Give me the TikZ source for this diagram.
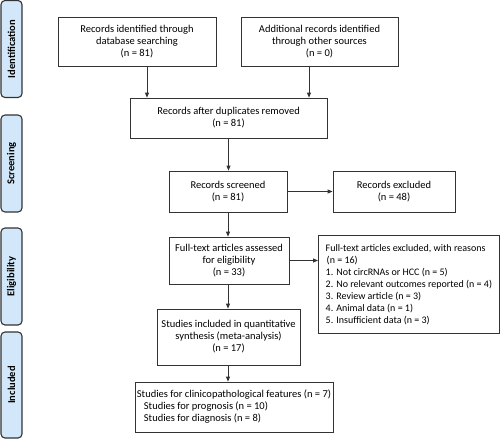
\documentclass[tikz,border=0pt]{standalone}
\usepackage{fontspec}
\setmainfont{Carlito}
\usetikzlibrary{arrows.meta}
\definecolor{sidefill}{HTML}{D2E8FA}
\definecolor{linegray}{HTML}{333333}
\begin{document}
\begin{tikzpicture}[x=1pt,y=-1pt,
  box/.style={draw=linegray,line width=0.8pt,align=center,inner sep=0pt,font=\fontsize{10.5}{12}\selectfont},
  side/.style={draw=linegray,fill=sidefill,line width=1.1pt,rounded corners=4pt,inner sep=0pt,
    minimum width=21pt},
  sidetext/.style={rotate=90,font=\fontsize{10.5}{12}\selectfont\bfseries},
  arr/.style={draw=linegray,line width=0.8pt,-{Triangle[length=5pt,width=4pt]}}]
\useasboundingbox (0,0) rectangle (500,440);
% side labels
\node[side,minimum height=97pt] (s1) at (11.5,49) {};
\node[sidetext] (t1) at (s1.center) {Identification};
\node[side,minimum height=97pt] (s2) at (11.5,163.5) {};
\node[sidetext] (t2) at (s2.center) {Screening};
\node[side,minimum height=97pt] (s3) at (11.5,276.5) {};
\node[sidetext] (t3) at (s3.center) {Eligibility};
\node[side,minimum height=106pt] (s4) at (11.5,385) {};
\node[sidetext] (t4) at (s4.center) {Included};
% boxes
\node[box,minimum width=158pt,minimum height=49pt] (b1) at (137,41.5)
  {Records identified through\\database searching\\(n = 81)};
\node[box,minimum width=157pt,minimum height=49pt] (b2) at (319.5,41.5)
  {Additional records identified\\through other sources\\(n = 0)};
\node[box,minimum width=197pt,minimum height=40pt] (b3) at (228.5,118)
  {Records after duplicates removed\\(n = 81)};
\node[box,minimum width=118pt,minimum height=41pt] (b4) at (228,191.5)
  {Records screened\\(n = 81)};
\node[box,minimum width=122pt,minimum height=41pt] (b5) at (394,191.5)
  {Records excluded\\(n = 48)};
\node[box,minimum width=120pt,minimum height=47pt] (b6) at (229,260.5)
  {Full-text articles assessed\\for eligibility\\(n = 33)};
\node[box,align=left,anchor=north west,inner xsep=6pt,minimum width=181pt,minimum height=98pt,
  font=\fontsize{10}{12}\selectfont] (b7) at (318,235)
  {Full-text articles excluded, with reasons\\\hspace*{1pt}(n = 16)\\1. Not circRNAs or HCC (n = 5)\\2. No relevant outcomes reported (n = 4)\\3. Review article (n = 3)\\4. Animal data (n = 1)\\5. Insufficient data (n = 3)};
\node[box,minimum width=143pt,minimum height=56pt] (b8) at (228.5,337)
  {Studies included in quantitative\\synthesis (meta-analysis)\\(n = 17)};
\node[box,align=left,minimum width=198pt,minimum height=50pt] (b9) at (234,407)
  {Studies for clinicopathological features (n = 7)\\\hspace*{7pt}Studies for prognosis (n = 10)\\\hspace*{7pt}Studies for diagnosis (n = 8)};
% arrows
\draw[arr] ([xshift=10pt]b1.south) -- ([xshift=10pt]b1.south |- b3.north);
\draw[arr] ([xshift=-10.5pt]b2.south) -- ([xshift=-10.5pt]b2.south |- b3.north);
\draw[arr] (b3.south) -- (b3.south |- b4.north);
\draw[arr] (b4.east) -- (b5.west);
\draw[arr] (b4.south) -- (b4.south |- b6.north);
\draw[arr] (b6.east) -- (b6.east -| b7.west);
\draw[arr] (b4.south |- b6.south) -- (b4.south |- b8.north);
\draw[arr] (b4.south |- b8.south) -- (b4.south |- b9.north);
\end{tikzpicture}
\end{document}
